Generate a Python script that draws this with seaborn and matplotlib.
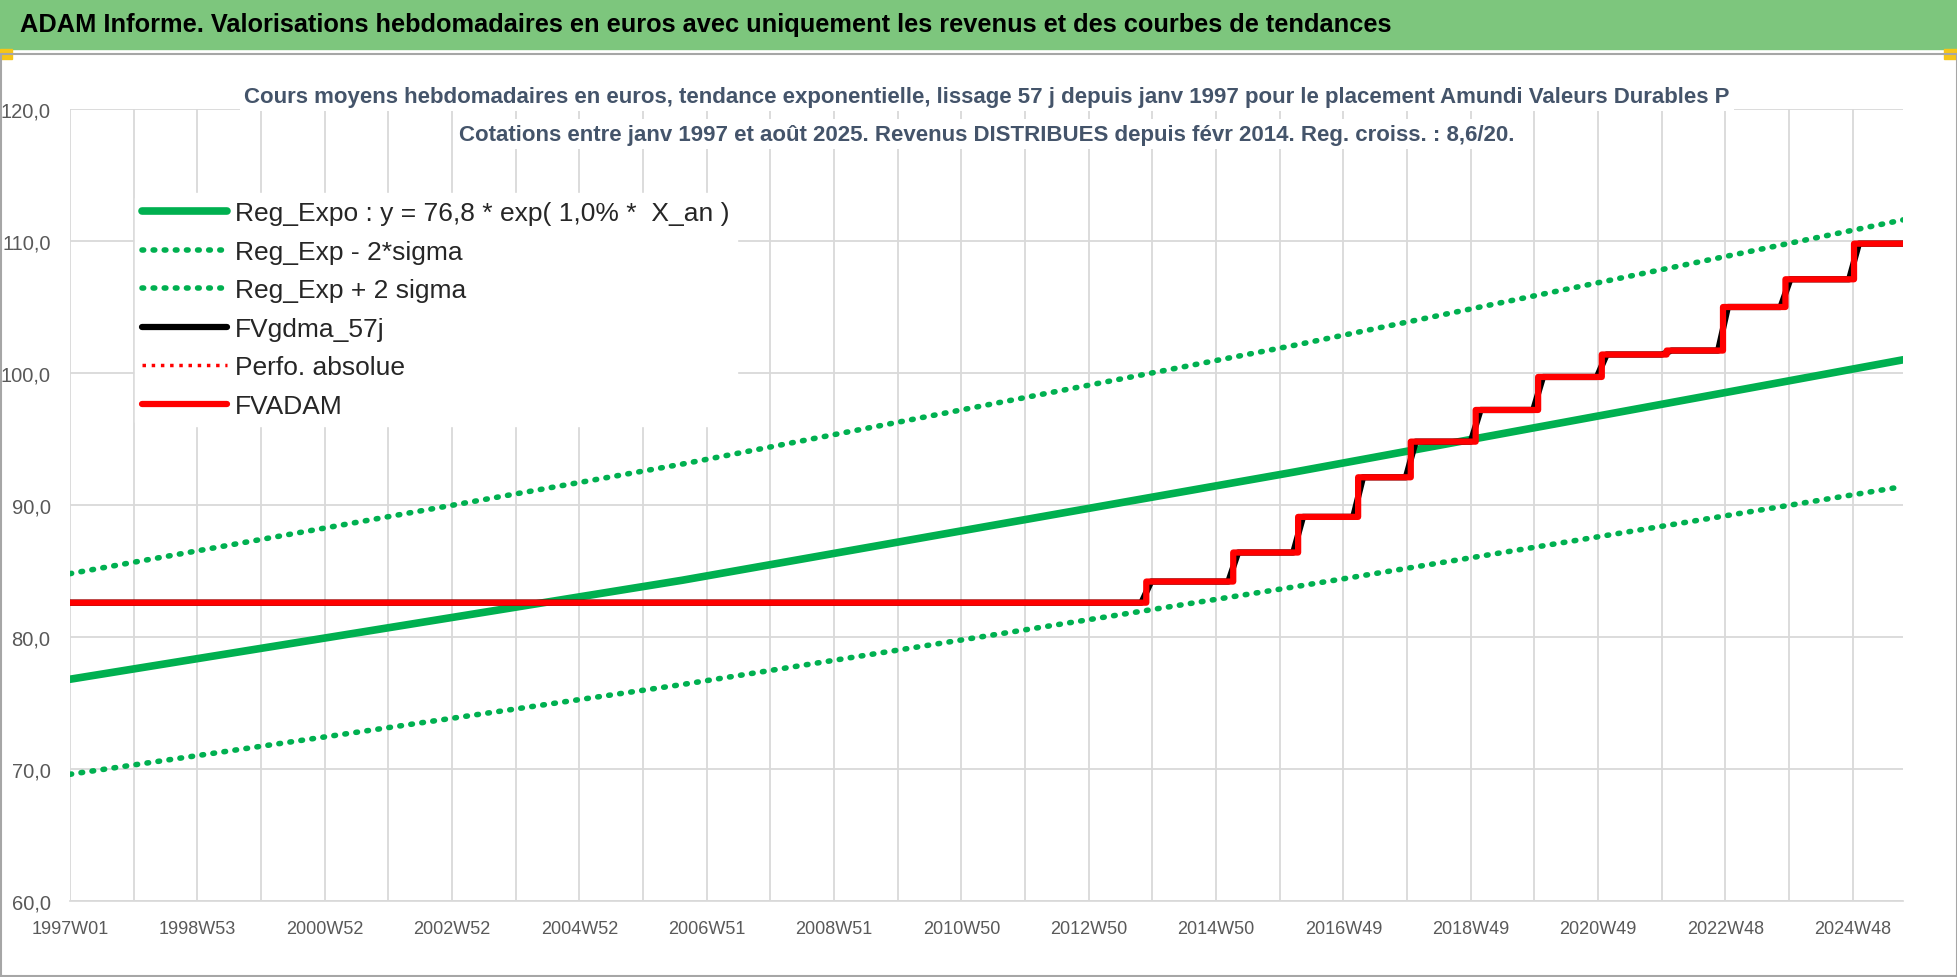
import numpy as np
import pandas as pd
import matplotlib.pyplot as plt
import seaborn as sns
from matplotlib.patches import Rectangle

sns.set_theme(style='white')
plt.rcParams['font.family'] = ['Liberation Sans', 'DejaVu Sans']

# week index since 1997W01
n_weeks = 1497
tick_weeks = [0, 104, 208, 312, 416, 520, 624, 728, 832, 936, 1040, 1144, 1248, 1352, 1456]
tick_labels = ['1997W01', '1998W53', '2000W52', '2002W52', '2004W52', '2006W51', '2008W51',
               '2010W50', '2012W50', '2014W50', '2016W49', '2018W49', '2020W49', '2022W48', '2024W48']

# trend lines read at a few weeks
trend_weeks = [0, 500, 1000, 1497]
reg_expo = [76.8, 84.3, 92.5, 101.0]
reg_minus = [69.6, 76.4, 83.8, 91.4]
reg_plus = [84.8, 93.1, 102.1, 111.6]

# FVADAM steps: week where each level starts, and level
step_start = [0, 879, 950, 1003, 1052, 1095, 1148, 1199, 1251, 1304, 1350, 1401, 1457]
step_level = [82.6, 84.2, 86.4, 89.1, 92.1, 94.8, 97.2, 99.7, 101.4, 101.7, 105.0, 107.1, 109.8]

weeks = np.arange(n_weeks + 1)
idx = np.searchsorted(step_start, weeks, side='right') - 1
fvadam = np.array(step_level)[idx]
# 57 day moving average of the step series (~8 weeks)
fvgdma = pd.Series(fvadam).rolling(8, min_periods=1, center=True).mean().to_numpy()

df = pd.DataFrame({'week': weeks, 'FVADAM': fvadam, 'FVgdma_57j': fvgdma})
trend = pd.DataFrame({'week': trend_weeks, 'expo': reg_expo, 'minus': reg_minus, 'plus': reg_plus})

W, H = 1958, 978
fig = plt.figure(figsize=(W / 100, H / 100), dpi=100)
fig.patches.append(Rectangle((0, 1 - 50 / H), 1, 50 / H, transform=fig.transFigure, color='#7DC67D', zorder=0))
fig.patches.append(Rectangle((0, 1 - 60 / H), 12 / W, 10 / H, transform=fig.transFigure, color='#F5C518', zorder=1))
fig.patches.append(Rectangle((1 - 14 / W, 1 - 60 / H), 14 / W, 10 / H, transform=fig.transFigure, color='#F5C518', zorder=1))
fig.patches.append(Rectangle((0.0005, 0.001), 0.999, 1 - 56 / H, transform=fig.transFigure, fill=False, ec='#A6A6A6', lw=1.5))
fig.text(20 / W, 1 - 25 / H, 'ADAM Informe. Valorisations hebdomadaires en euros avec uniquement les revenus et des courbes de tendances',
         fontsize=18.3, fontweight='bold', va='center', ha='left', color='black')

ax = fig.add_axes([70 / W, 1 - 902 / H, 1833 / W, 792 / H])
green = '#00B050'
sns.lineplot(data=trend, x='week', y='expo', ax=ax, color=green, lw=5.5, label='Reg_Expo : y = 76,8 * exp( 1,0% *  X_an )')
sns.lineplot(data=trend, x='week', y='minus', ax=ax, color=green, lw=4, ls=(0, (0.3, 1.7)), dash_capstyle='round',
             label='Reg_Exp - 2*sigma')
sns.lineplot(data=trend, x='week', y='plus', ax=ax, color=green, lw=4, ls=(0, (0.3, 1.7)), dash_capstyle='round',
             label='Reg_Exp + 2 sigma')
sns.lineplot(data=df, x='week', y='FVgdma_57j', ax=ax, color='black', lw=4.5, label='FVgdma_57j')
sns.lineplot(data=df, x='week', y='FVADAM', ax=ax, color='red', lw=2.5, ls=':', label='Perfo. absolue')
sns.lineplot(data=df, x='week', y='FVADAM', ax=ax, color='red', lw=4.5, label='FVADAM', drawstyle='steps-post')

ax.set_xlim(0, n_weeks)
ax.set_ylim(60, 120)
ax.set_yticks(range(60, 121, 10))
ax.set_yticklabels([f'{v},0' for v in range(60, 121, 10)], fontsize=14.5, color='#595959')
ax.set_xticks(range(0, n_weeks, 52), minor=True)
ax.set_xticks(tick_weeks)
ax.set_xticklabels(tick_labels, fontsize=13, color='#595959')
ax.tick_params(axis='both', length=0, pad=14)
ax.grid(True, which='both', color='#D9D9D9', lw=1.3)
ax.set_axisbelow(True)
for s in ['top', 'right', 'left']:
    ax.spines[s].set_visible(False)
ax.spines['bottom'].set_color('#D9D9D9')
ax.set_xlabel('')
ax.set_ylabel('')

leg = ax.legend(loc='upper left', bbox_to_anchor=(0.028, 0.91), frameon=True, fontsize=19, handlelength=3.2,
                labelspacing=0.55, borderpad=0.3, handletextpad=0.3)
leg.get_frame().set_facecolor('white')
leg.get_frame().set_edgecolor('white')
leg.get_frame().set_alpha(1)

fig.text(987 / W, 1 - 97 / H, 'Cours moyens hebdomadaires en euros, tendance exponentielle, lissage 57 j depuis janv 1997 pour le placement Amundi Valeurs Durables P',
         ha='center', va='center', fontsize=16, fontweight='bold', color='#44546A',
         bbox=dict(facecolor='white', edgecolor='none', pad=3))
fig.text(987 / W, 1 - 135 / H, 'Cotations entre janv 1997 et août 2025. Revenus DISTRIBUES depuis févr 2014. Reg. croiss. : 8,6/20.',
         ha='center', va='center', fontsize=16, fontweight='bold', color='#44546A',
         bbox=dict(facecolor='white', edgecolor='none', pad=3))

fig.savefig('out.png', dpi=100)
